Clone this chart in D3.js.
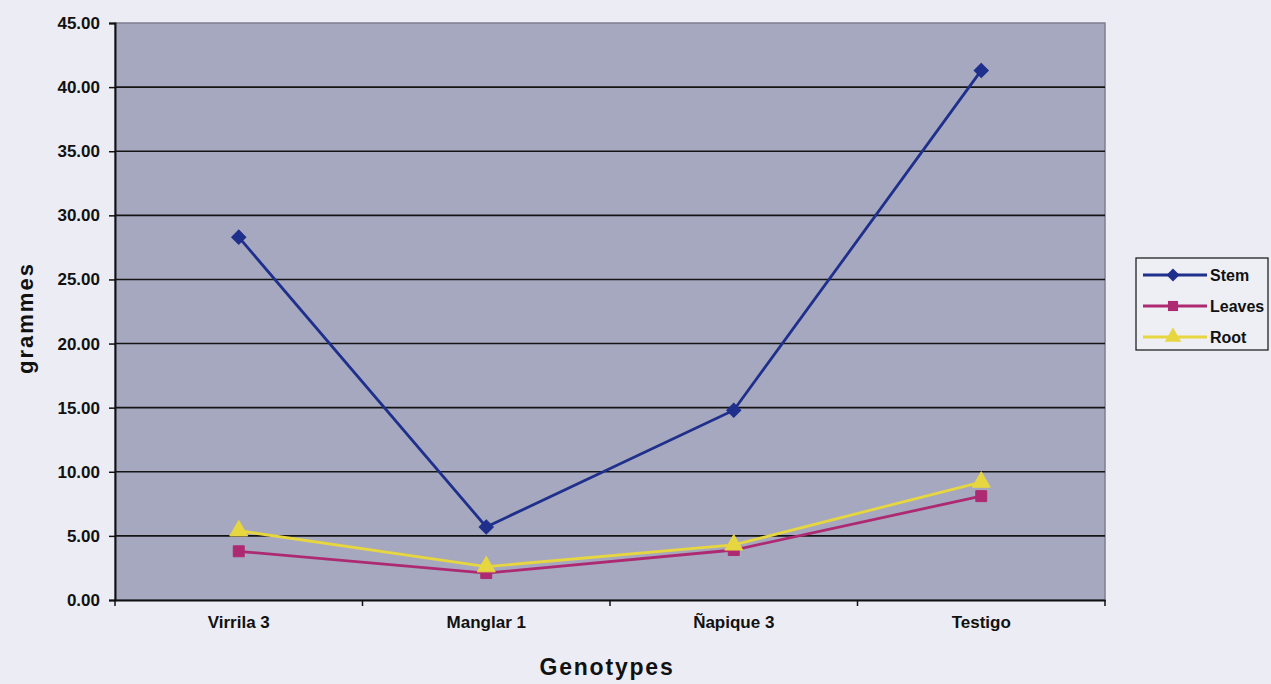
<!DOCTYPE html>
<html>
<head>
<meta charset="utf-8">
<script src="https://cdn.jsdelivr.net/npm/d3@7"></script>
<style>
  html, body { margin: 0; padding: 0; background: #ecedf4; }
  svg { display: block; }
  text { font-family: "Liberation Sans", Arial, sans-serif; font-weight: bold; fill: #111; }
</style>
</head>
<body>
<svg id="chart" width="1271" height="684"></svg>
<script>
// Dry weight per plant part for each genotype
const genotypes = ["Virrila 3", "Manglar 1", "Ñapique 3", "Testigo"];
const stem   = [28.3, 5.7, 14.8, 41.3];
const leaves = [3.8, 2.1, 3.9, 8.1];
const root   = [5.4, 2.6, 4.3, 9.2];
const yTicks = [0, 5, 10, 15, 20, 25, 30, 35, 40, 45];

// square rotated 45 degrees gives the wide diamond marker
const series = [
  { name: "Stem",   values: stem,   color: "#1f2f8c", marker: d3.symbolSquare,   size: 100, rotate: 45 },
  { name: "Leaves", values: leaves, color: "#ad2a72", marker: d3.symbolSquare,   size: 120, rotate: 0 },
  { name: "Root",   values: root,   color: "#e6d640", marker: d3.symbolTriangle, size: 140, rotate: 0 }
];

const svg = d3.select("#chart");
const plot = { left: 115, top: 23, right: 1105, bottom: 600 };

const x = d3.scaleBand().domain(genotypes).range([plot.left, plot.right]);
const y = d3.scaleLinear().domain([0, 45]).range([plot.bottom, plot.top]);

// plot area
svg.append("rect")
  .attr("x", plot.left).attr("y", plot.top)
  .attr("width", plot.right - plot.left).attr("height", plot.bottom - plot.top)
  .attr("fill", "#a6a8bf").attr("stroke", "#7d7f90").attr("stroke-width", 1.5);

// horizontal gridlines
svg.append("g").selectAll("line")
  .data(yTicks.filter(t => t > 0 && t < 45))
  .join("line")
  .attr("x1", plot.left).attr("x2", plot.right)
  .attr("y1", d => y(d)).attr("y2", d => y(d))
  .attr("stroke", "#141414").attr("stroke-width", 1.6);

// y axis
const yAxis = svg.append("g")
  .attr("transform", `translate(${plot.left},0)`)
  .call(d3.axisLeft(y).tickValues(yTicks).tickFormat(d3.format(".2f")).tickSize(6).tickPadding(9));
yAxis.select(".domain").attr("stroke", "#111").attr("stroke-width", 2);
yAxis.selectAll(".tick line").attr("stroke", "#111").attr("stroke-width", 1.5);
yAxis.selectAll(".tick text").style("font-size", "17px").attr("fill", "#111");

// x axis with ticks at category boundaries
const xAxis = svg.append("g")
  .attr("transform", `translate(0,${plot.bottom})`)
  .call(d3.axisBottom(x).tickSize(0).tickPadding(16));
xAxis.select(".domain").attr("stroke", "#111").attr("stroke-width", 2);
xAxis.selectAll(".tick text").style("font-size", "17px").attr("fill", "#111");
svg.append("g").selectAll("line")
  .data(genotypes.map(g => x(g)).concat([plot.right]))
  .join("line")
  .attr("x1", d => d).attr("x2", d => d)
  .attr("y1", plot.bottom).attr("y2", plot.bottom + 6)
  .attr("stroke", "#111").attr("stroke-width", 1.5);

// axis titles
svg.append("text")
  .attr("x", plot.left + (plot.right - plot.left) / 2 - 3).attr("y", 675)
  .attr("text-anchor", "middle")
  .style("font-size", "23px").style("letter-spacing", "1.8px")
  .text("Genotypes");
svg.append("text")
  .attr("transform", "translate(33,318) rotate(-90)")
  .attr("text-anchor", "middle")
  .style("font-size", "22px").style("letter-spacing", "2px")
  .text("grammes");

// series lines and markers
const line = d3.line()
  .x((d, i) => x(genotypes[i]) + x.bandwidth() / 2)
  .y(d => y(d));

series.forEach(s => {
  svg.append("path")
    .datum(s.values)
    .attr("d", line)
    .attr("fill", "none")
    .attr("stroke", s.color)
    .attr("stroke-width", 2.8);
});
series.forEach(s => {
  svg.append("g").selectAll("path")
    .data(s.values)
    .join("path")
    .attr("transform", (d, i) => `translate(${x(genotypes[i]) + x.bandwidth() / 2},${y(d)}) rotate(${s.rotate})`)
    .attr("d", d3.symbol().type(s.marker).size(s.size))
    .attr("fill", s.color)
    .attr("stroke", s.color)
    .attr("stroke-width", 1);
});

// legend
const legend = svg.append("g");
legend.append("rect")
  .attr("x", 1136).attr("y", 258).attr("width", 132).attr("height", 92)
  .attr("fill", "#eeeef5").attr("stroke", "#222").attr("stroke-width", 1.3);
series.forEach((s, i) => {
  const ly = 275 + i * 31;
  legend.append("line")
    .attr("x1", 1143).attr("x2", 1207).attr("y1", ly).attr("y2", ly)
    .attr("stroke", s.color).attr("stroke-width", 2.8);
  legend.append("path")
    .attr("transform", `translate(1173,${ly}) rotate(${s.rotate})`)
    .attr("d", d3.symbol().type(s.marker).size(s.size * 0.85))
    .attr("fill", s.color);
  legend.append("text")
    .attr("x", 1210).attr("y", ly + 6)
    .style("font-size", "16px")
    .text(s.name);
});
</script>
</body>
</html>
